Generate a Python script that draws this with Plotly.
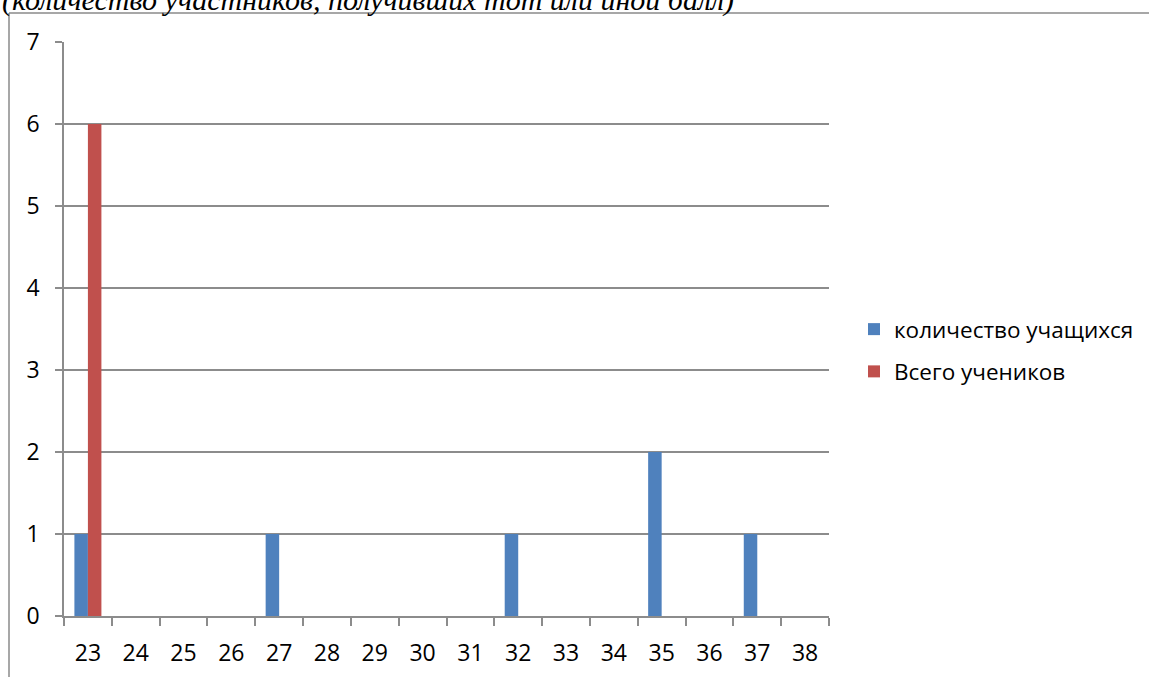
import plotly.graph_objects as go

categories = ["23", "24", "25", "26", "27", "28", "29", "30", "31", "32", "33", "34", "35", "36", "37", "38"]
students = [1, 0, 0, 0, 1, 0, 0, 0, 0, 1, 0, 0, 2, 0, 1, 0]
total = [6, 0, 0, 0, 0, 0, 0, 0, 0, 0, 0, 0, 0, 0, 0, 0]
series_names = ["количество учащихся", "Всего учеников"]
title_text = "(количество участников, получивших тот или иной балл)"

W, H = 1149, 677
L, R, T, B = 64, 829, 42, 616
pw, ph = R - L, B - T

def px(x):
    return (x - L) / pw

def py(y):
    return (B - y) / ph

FONT = "Open Sans"
GRID = "#8c8c8c"

fig = go.Figure()
fig.add_trace(go.Bar(x=categories, y=students, name=series_names[0],
                     marker=dict(color="#4F81BD", line=dict(width=0)),
                     legendgroup="a"))
fig.add_trace(go.Bar(x=categories, y=total, name=series_names[1],
                     marker=dict(color="#C0504D", line=dict(width=0)),
                     legendgroup="b"))

fig.update_layout(
    width=W, height=H,
    margin=dict(l=L, r=W - R, t=T, b=H - B, pad=0, autoexpand=False),
    paper_bgcolor="white", plot_bgcolor="white",
    barmode="group", bargap=0.435, bargroupgap=0,
    font=dict(family=FONT, size=23, color="black"),
    showlegend=True,
    legend=dict(x=px(854), y=py(308), xanchor="left", yanchor="top",
                font=dict(family=FONT, size=22.5, color="black"),
                tracegroupgap=10, itemwidth=30, bgcolor="rgba(0,0,0,0)"),
    xaxis=dict(type="category", range=[-0.5, 15.5], tickson="boundaries",
               ticks="outside", ticklen=8, tickcolor=GRID, tickwidth=1.5,
               showline=True, linecolor=GRID, linewidth=1.5,
               showgrid=False, ticklabelstandoff=16, fixedrange=True),
    yaxis=dict(range=[0, 7], dtick=1, tick0=0, ticks="outside", ticklen=7,
               tickcolor=GRID, tickwidth=1.5,
               showline=True, linecolor=GRID, linewidth=1.5,
               showgrid=True, gridcolor=GRID, gridwidth=1.5,
               zeroline=False, ticklabelstandoff=11, fixedrange=True),
    shapes=[
        dict(type="line", xref="paper", yref="paper",
             x0=px(9), x1=px(9), y0=py(13), y1=py(700),
             line=dict(color="#8a8a8a", width=1.5)),
        dict(type="line", xref="paper", yref="paper",
             x0=px(9), x1=px(1160), y0=py(13), y1=py(13),
             line=dict(color="#8a8a8a", width=1.5)),
    ],
    annotations=[
        dict(text="<i>" + title_text + "</i>", xref="paper", yref="paper",
             x=px(0), y=py(19), xanchor="left", yanchor="bottom",
             showarrow=False,
             font=dict(family="Liberation Serif", size=30, color="black"),
             )
    ],
)

fig.write_html("out.html", config={"displayModeBar": False},
               post_script="document.body.style.margin='0';document.body.style.overflow='hidden';")
